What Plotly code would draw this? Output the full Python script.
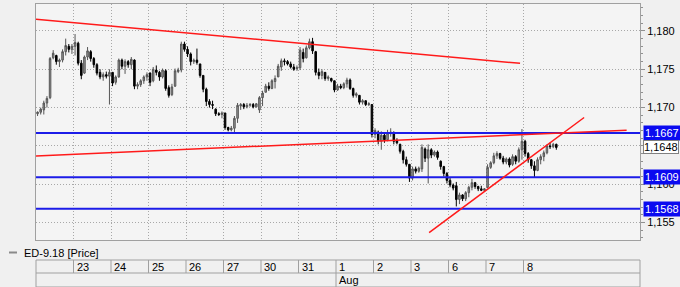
import plotly.graph_objects as go

# ---------------- data ----------------
instrument = "ED-9.18 [Price]"
bars_per_day = 12
# first (partial, unlabeled) day is Jul 20; labels for following days
day_labels = ["23", "24", "25", "26", "27", "30", "31", "1", "2", "3", "6", "7", "8"]
month_label = "Aug"
month_day_label = "1"

opens = [
    1.1692, 1.1694, 1.1697, 1.1706, 1.1713, 1.1765, 1.1768, 1.1760, 1.1762, 1.1773, 1.1780, 1.1776,
    1.1780, 1.1784, 1.1758, 1.1745, 1.1766, 1.1773, 1.1764, 1.1756, 1.1746, 1.1740, 1.1743, 1.1741,
    1.1746, 1.1733, 1.1740, 1.1762, 1.1754, 1.1760, 1.1756, 1.1762, 1.1728, 1.1730, 1.1735, 1.1740,
    1.1745, 1.1735, 1.1749, 1.1746, 1.1740, 1.1748, 1.1726, 1.1717, 1.1728, 1.1747, 1.1749, 1.1783,
    1.1776, 1.1770, 1.1760, 1.1762, 1.1757, 1.1742, 1.1724, 1.1708, 1.1704, 1.1698, 1.1692, 1.1691,
    1.1693, 1.1674, 1.1671, 1.1673, 1.1686, 1.1702, 1.1704, 1.1701, 1.1703, 1.1704, 1.1701, 1.1697,
    1.1713, 1.1720, 1.1728, 1.1725, 1.1734, 1.1740, 1.1753, 1.1761, 1.1760, 1.1757, 1.1753, 1.1751,
    1.1752, 1.1772, 1.1765, 1.1778, 1.1786, 1.1773, 1.1746, 1.1742, 1.1746, 1.1738, 1.1738, 1.1735,
    1.1723, 1.1728, 1.1726, 1.1731, 1.1736, 1.1725, 1.1716, 1.1716, 1.1707, 1.1709, 1.1704, 1.1704,
    1.1665, 1.1668, 1.1656, 1.1664, 1.1658, 1.1666, 1.1667, 1.1657, 1.1652, 1.1643, 1.1632, 1.1626,
    1.1608, 1.1620, 1.1617, 1.1620, 1.1646, 1.1634, 1.1645, 1.1638, 1.1642, 1.1630, 1.1623, 1.1614,
    1.1605, 1.1599, 1.1598, 1.1580, 1.1586, 1.1581, 1.1589, 1.1596, 1.1602, 1.1597, 1.1594, 1.1592,
    1.1596, 1.1622, 1.1628, 1.1637, 1.1640, 1.1634, 1.1629, 1.1633, 1.1626, 1.1636, 1.1630, 1.1645,
    1.1656, 1.1640, 1.1632, 1.1624, 1.1618, 1.1632, 1.1636, 1.1641, 1.1650, 1.1649, 1.1652,
]
highs = [
    1.1695, 1.1700, 1.1709, 1.1715, 1.1766, 1.1775, 1.1769, 1.1764, 1.1776, 1.1790, 1.1783, 1.1783,
    1.1796, 1.1786, 1.1762, 1.1768, 1.1779, 1.1775, 1.1766, 1.1758, 1.1750, 1.1746, 1.1747, 1.1750,
    1.1746, 1.1742, 1.1764, 1.1764, 1.1763, 1.1762, 1.1766, 1.1763, 1.1733, 1.1737, 1.1742, 1.1746,
    1.1746, 1.1753, 1.1755, 1.1748, 1.1751, 1.1750, 1.1729, 1.1731, 1.1751, 1.1752, 1.1786, 1.1786,
    1.1780, 1.1772, 1.1764, 1.1777, 1.1757, 1.1742, 1.1726, 1.1711, 1.1709, 1.1699, 1.1694, 1.1695,
    1.1693, 1.1675, 1.1676, 1.1689, 1.1706, 1.1706, 1.1706, 1.1706, 1.1706, 1.1706, 1.1706, 1.1715,
    1.1722, 1.1731, 1.1733, 1.1737, 1.1742, 1.1757, 1.1764, 1.1764, 1.1762, 1.1760, 1.1757, 1.1755,
    1.1779, 1.1777, 1.1781, 1.1790, 1.1791, 1.1774, 1.1751, 1.1750, 1.1746, 1.1742, 1.1739, 1.1735,
    1.1731, 1.1731, 1.1733, 1.1739, 1.1738, 1.1726, 1.1720, 1.1716, 1.1711, 1.1709, 1.1707, 1.1704,
    1.1673, 1.1670, 1.1669, 1.1667, 1.1671, 1.1673, 1.1669, 1.1660, 1.1653, 1.1645, 1.1636, 1.1626,
    1.1623, 1.1623, 1.1623, 1.1652, 1.1648, 1.1652, 1.1647, 1.1644, 1.1644, 1.1631, 1.1624, 1.1616,
    1.1608, 1.1601, 1.1603, 1.1589, 1.1587, 1.1591, 1.1598, 1.1607, 1.1603, 1.1598, 1.1598, 1.1595,
    1.1626, 1.1630, 1.1641, 1.1643, 1.1641, 1.1637, 1.1635, 1.1635, 1.1639, 1.1638, 1.1648, 1.1672,
    1.1658, 1.1642, 1.1633, 1.1630, 1.1635, 1.1639, 1.1644, 1.1652, 1.1654, 1.1654, 1.1653,
]
lows = [
    1.1689, 1.1691, 1.1691, 1.1700, 1.1711, 1.1763, 1.1756, 1.1753, 1.1759, 1.1768, 1.1772, 1.1770,
    1.1768, 1.1755, 1.1737, 1.1744, 1.1762, 1.1760, 1.1752, 1.1742, 1.1737, 1.1735, 1.1738, 1.1704,
    1.1728, 1.1730, 1.1739, 1.1750, 1.1744, 1.1752, 1.1750, 1.1724, 1.1724, 1.1727, 1.1731, 1.1735,
    1.1728, 1.1733, 1.1742, 1.1735, 1.1738, 1.1722, 1.1713, 1.1715, 1.1727, 1.1745, 1.1746, 1.1773,
    1.1766, 1.1755, 1.1757, 1.1756, 1.1739, 1.1720, 1.1702, 1.1700, 1.1698, 1.1689, 1.1689, 1.1686,
    1.1671, 1.1669, 1.1669, 1.1667, 1.1680, 1.1697, 1.1698, 1.1699, 1.1701, 1.1699, 1.1700, 1.1693,
    1.1702, 1.1720, 1.1722, 1.1724, 1.1725, 1.1740, 1.1748, 1.1755, 1.1755, 1.1751, 1.1748, 1.1748,
    1.1749, 1.1759, 1.1764, 1.1776, 1.1770, 1.1742, 1.1737, 1.1737, 1.1735, 1.1735, 1.1733, 1.1720,
    1.1722, 1.1724, 1.1724, 1.1726, 1.1723, 1.1713, 1.1713, 1.1704, 1.1704, 1.1702, 1.1702, 1.1661,
    1.1660, 1.1652, 1.1645, 1.1654, 1.1656, 1.1662, 1.1652, 1.1652, 1.1640, 1.1627, 1.1623, 1.1603,
    1.1605, 1.1614, 1.1615, 1.1616, 1.1629, 1.1601, 1.1634, 1.1636, 1.1632, 1.1619, 1.1610, 1.1601,
    1.1596, 1.1592, 1.1571, 1.1574, 1.1578, 1.1578, 1.1583, 1.1592, 1.1594, 1.1591, 1.1591, 1.1590,
    1.1595, 1.1620, 1.1626, 1.1633, 1.1632, 1.1626, 1.1626, 1.1622, 1.1624, 1.1626, 1.1628, 1.1632,
    1.1636, 1.1628, 1.1620, 1.1609, 1.1617, 1.1626, 1.1630, 1.1639, 1.1646, 1.1647, 1.1645,
]
closes = [
    1.1694, 1.1698, 1.1706, 1.1712, 1.1764, 1.1771, 1.1760, 1.1762, 1.1773, 1.1781, 1.1776, 1.1780,
    1.1785, 1.1758, 1.1742, 1.1766, 1.1774, 1.1764, 1.1756, 1.1745, 1.1740, 1.1743, 1.1741, 1.1746,
    1.1732, 1.1740, 1.1762, 1.1754, 1.1760, 1.1756, 1.1763, 1.1728, 1.1730, 1.1735, 1.1740, 1.1743,
    1.1733, 1.1750, 1.1746, 1.1740, 1.1749, 1.1725, 1.1716, 1.1727, 1.1748, 1.1749, 1.1783, 1.1776,
    1.1770, 1.1760, 1.1762, 1.1759, 1.1742, 1.1724, 1.1708, 1.1704, 1.1703, 1.1692, 1.1691, 1.1693,
    1.1674, 1.1671, 1.1673, 1.1686, 1.1703, 1.1704, 1.1701, 1.1703, 1.1704, 1.1701, 1.1705, 1.1713,
    1.1719, 1.1728, 1.1725, 1.1735, 1.1738, 1.1754, 1.1761, 1.1760, 1.1757, 1.1753, 1.1750, 1.1752,
    1.1775, 1.1764, 1.1778, 1.1786, 1.1774, 1.1746, 1.1742, 1.1747, 1.1738, 1.1740, 1.1735, 1.1723,
    1.1728, 1.1726, 1.1731, 1.1736, 1.1725, 1.1716, 1.1718, 1.1707, 1.1709, 1.1704, 1.1705, 1.1665,
    1.1670, 1.1656, 1.1664, 1.1658, 1.1667, 1.1668, 1.1656, 1.1654, 1.1643, 1.1632, 1.1626, 1.1608,
    1.1620, 1.1617, 1.1621, 1.1648, 1.1634, 1.1645, 1.1638, 1.1642, 1.1635, 1.1623, 1.1614, 1.1605,
    1.1599, 1.1595, 1.1580, 1.1586, 1.1581, 1.1589, 1.1596, 1.1602, 1.1597, 1.1594, 1.1592, 1.1594,
    1.1622, 1.1628, 1.1637, 1.1640, 1.1634, 1.1629, 1.1633, 1.1625, 1.1636, 1.1630, 1.1645, 1.1656,
    1.1640, 1.1632, 1.1624, 1.1618, 1.1632, 1.1636, 1.1641, 1.1650, 1.1649, 1.1652, 1.1648,
]

# horizontal support/resistance levels and their tags
levels = [1.1667, 1.1609, 1.1568]
level_tags = ["1.1667", "1.1609", "1.1568"]
last_price = 1.1648
last_tag = "1,1648"

# trend lines (bar-index, price)
trend_x = [[-0.5, 154.4], [-0.5, 188.5], [125.3, 174.9]]
trend_y = [[1.18153, 1.17578], [1.16369, 1.16705], [1.15369, 1.16871]]

y_ticks = [1.155, 1.160, 1.165, 1.170, 1.175, 1.180]
y_ticktext = ["1,155", "1,160", "1,165", "1,170", "1,175", "1,180"]

X_RANGE = [-0.5, 192.78]
Y_RANGE = [1.15272, 1.18352]

# ---------------- figure ----------------
FONT = "Liberation Sans, Arial, sans-serif"
GRID = "#a8a8a8"
FRAME = "#a0a0a0"
BLUE = "#1c1ce8"
RED = "#ff1a1a"

x_idx = list(range(len(closes)))
boundaries = [bars_per_day * (k + 1) - 0.5 for k in range(len(day_labels))]

fig = go.Figure()

fig.add_trace(go.Candlestick(
    x=x_idx, open=opens, high=highs, low=lows, close=closes,
    increasing=dict(line=dict(color="#555555", width=1), fillcolor="#9a9a9a"),
    decreasing=dict(line=dict(color="#000000", width=1), fillcolor="#000000"),
    whiskerwidth=0, showlegend=False, hoverinfo="skip",
))

for lv in levels:
    fig.add_trace(go.Scatter(x=X_RANGE, y=[lv, lv], mode="lines",
                             line=dict(color=BLUE, width=2), showlegend=False, hoverinfo="skip"))

for tx, ty in zip(trend_x, trend_y):
    fig.add_trace(go.Scatter(x=tx, y=ty, mode="lines",
                             line=dict(color=RED, width=1.5), showlegend=False, hoverinfo="skip"))

annotations = []
for lv, tag in zip(levels, level_tags):
    annotations.append(dict(x=1, xref="paper", y=lv, yref="y", xanchor="left", yanchor="middle",
                            xshift=3, text=tag, showarrow=False, bgcolor="#0a0af0",
                            font=dict(family=FONT, size=11, color="white"), borderpad=1))
annotations.append(dict(x=1, xref="paper", y=last_price, yref="y", xanchor="left", yanchor="middle",
                        xshift=3, text=last_tag, showarrow=False, bgcolor="white",
                        bordercolor="#808080", borderwidth=1,
                        font=dict(family=FONT, size=11, color="black"), borderpad=0))

# layout geometry (paper units) for the bottom date table & legend
plot_h = 287 - 4 - 47
def py(pix):
    return (240 - pix) / plot_h
def px(pix):
    return (pix - 36) / 604

shapes = []
# legend marker
shapes.append(dict(type="line", xref="paper", yref="paper", x0=px(9), x1=px(17),
                   y0=py(252.5), y1=py(252.5), line=dict(color="#8a8a8a", width=2)))
annotations.append(dict(x=px(22), xref="paper", y=py(252.5), yref="paper", xanchor="left",
                        yanchor="middle", text=instrument, showarrow=False,
                        font=dict(family=FONT, size=11, color="black")))
# table
row_top, row_mid, row_bot = py(260), py(273), py(287)
shapes.append(dict(type="rect", xref="paper", yref="paper", x0=0, x1=1, y0=row_bot, y1=row_top,
                   line=dict(color=FRAME, width=1), fillcolor="rgba(0,0,0,0)"))
shapes.append(dict(type="line", xref="paper", yref="paper", x0=0, x1=1, y0=row_mid, y1=row_mid,
                   line=dict(color=FRAME, width=1)))
for b, lab in zip(boundaries, day_labels):
    shapes.append(dict(type="line", xref="x", yref="paper", x0=b, x1=b, y0=row_mid, y1=row_top,
                       line=dict(color=FRAME, width=1)))
    annotations.append(dict(x=b, xref="x", y=(row_top + row_mid) / 2, yref="paper", xanchor="left",
                            yanchor="middle", xshift=1, text=lab, showarrow=False,
                            font=dict(family=FONT, size=11, color="black")))
    if lab == month_day_label:
        shapes.append(dict(type="line", xref="x", yref="paper", x0=b, x1=b, y0=row_bot, y1=row_mid,
                           line=dict(color=FRAME, width=1)))
        annotations.append(dict(x=b, xref="x", y=(row_mid + row_bot) / 2, yref="paper",
                                xanchor="left", yanchor="middle", xshift=1, text=month_label,
                                showarrow=False, font=dict(family=FONT, size=11, color="black")))

fig.update_layout(
    width=680, height=287,
    margin=dict(l=36, r=40, t=4, b=47, pad=0),
    paper_bgcolor="#f0f0f0", plot_bgcolor="#f4f4f4",
    showlegend=False,
    annotations=annotations, shapes=shapes,
    xaxis=dict(range=X_RANGE, tickvals=boundaries, showticklabels=False, ticks="",
               showgrid=True, gridcolor=GRID, griddash="1px,2px", gridwidth=1,
               showline=True, mirror=True, linecolor=FRAME, linewidth=1,
               zeroline=False, rangeslider=dict(visible=False), fixedrange=True),
    yaxis=dict(range=Y_RANGE, side="right", tickvals=y_ticks, ticktext=y_ticktext,
               showgrid=True, gridcolor=GRID, griddash="1px,2px", gridwidth=1,
               ticks="outside", ticklen=4, tickcolor="#909090",
               minor=dict(dtick=0.001, tick0=1.155, ticks="outside", ticklen=2,
                          tickcolor="#909090", showgrid=False),
               tickfont=dict(family=FONT, size=11, color="black"),
               showline=True, mirror=True, linecolor=FRAME, linewidth=1, zeroline=False),
)

fig.write_html("out.html")
